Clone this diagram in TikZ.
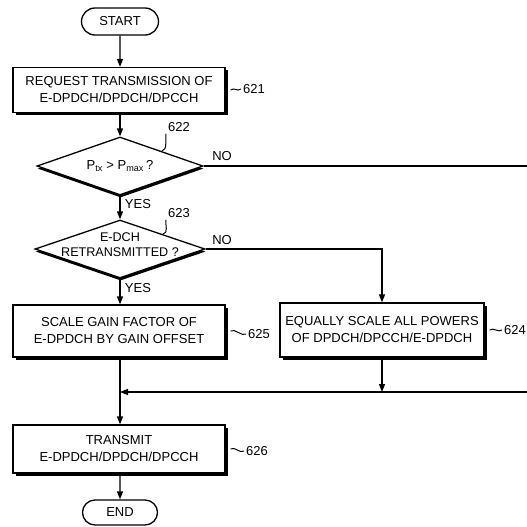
\documentclass[tikz,border=0pt]{standalone}
\usepackage{fontspec}
\setmainfont{Liberation Sans}
\usetikzlibrary{arrows.meta,shapes.geometric,shapes.misc,shadows}
\begin{document}
\begin{tikzpicture}[x=1pt,y=-1pt, line width=1.3pt,
  font=\fontsize{13}{17}\selectfont,
  box/.style={draw, fill=white, rectangle, align=center, inner sep=0pt,
    drop shadow={shadow xshift=2.6pt, shadow yshift=-2.6pt, fill=black, opacity=1}},
  term/.style={draw, rounded rectangle, fill=white, inner sep=0pt},
  dec/.style={draw, diamond, fill=white, inner sep=0pt,
    drop shadow={shadow xshift=0.6pt, shadow yshift=-2.6pt, fill=black, opacity=1}},
  arr/.style={-{Triangle[length=8pt,width=6pt]}},
  lab/.style={inner sep=1.5pt},
  tld/.style={line width=1pt}
]
\useasboundingbox (0,0) rectangle (527,527);

\node[term, minimum width=77, minimum height=27] (start) at (120,21.5) {START};
\node[box, minimum width=212, minimum height=45] (n621) at (119,90) {REQUEST TRANSMISSION OF\\E-DPDCH/DPDCH/DPCCH};
\node[dec, minimum width=166, minimum height=58] (d622) at (120,166) {};
\node (t622) at (d622.center) {P\textsubscript{tx} > P\textsubscript{max}\,?};
\node[dec, minimum width=170, minimum height=58] (d623) at (120,249) {};
\node[align=center, font=\fontsize{12.6}{15}\selectfont] (t623) at (120,245) {E-DCH\\RETRANSMITTED ?};
\node[box, minimum width=212, minimum height=52] (n625) at (119,331) {SCALE GAIN FACTOR OF\\E-DPDCH BY GAIN OFFSET};
\node[box, minimum width=204, minimum height=54] (n624) at (382,330) {EQUALLY SCALE ALL POWERS\\OF DPDCH/DPCCH/E-DPDCH};
\node[box, minimum width=212, minimum height=48] (n626) at (119,449) {TRANSMIT\\E-DPDCH/DPDCH/DPCCH};
\node[term, minimum width=75, minimum height=25] (end) at (120,512.5) {END};

% connectors
\coordinate (e1) at (527,166);
\coordinate (e2) at (527,392);
\coordinate (m) at (120,392);
\draw[arr] (start) -- (start |- n621.north);
\draw[arr] (n621.south -| start) -- (d622.north);
\draw[arr] (d622.south) -- (d623.north);
\draw[arr] (d623.south) -- (d623.south |- n625.north);
\draw (d622.east) -- (e1);
\draw[arr] (d623.east) -| (n624.north);
\draw[arr] (n625.south -| m) -- (m |- n626.north);
\draw[arr] (e2) -- (m);
\draw[arr] (n624.south) -- (n624.south |- e2);
\draw[arr] (n626.south -| end) -- (end);

% YES / NO
\node[lab] (no1) at (222,156) {NO};
\node[lab] (no2) at (222,240) {NO};
\node[lab] (yes1) at (138,204) {YES};
\node[lab] (yes2) at (138,288) {YES};

% reference numerals
\node[lab] (l621) at (254,89) {621};
\node[lab] (l622) at (179,127) {622};
\node[lab] (l623) at (179,213) {623};
\node[lab] (l624) at (515,330) {624};
\node[lab] (l625) at (259,334) {625};
\node[lab] (l626) at (257,451) {626};

\draw[tld] (n621.east) ++(5,0) .. controls +(4,-3) and +(-4,3) .. (l621.west);
\draw[tld] (n625.east) ++(5,0) .. controls +(4,-3) and +(-4,3) .. (l625.west);
\draw[tld] (n624.east) ++(5,0) .. controls +(4,-3) and +(-4,3) .. (l624.west);
\draw[tld] (n626.east) ++(5,0) .. controls +(4,-3) and +(-4,3) .. (l626.west);
\draw[tld] (d622.north east) .. controls +(6,-1) and +(-1,5) .. (l622.south west);
\draw[tld] (d623.north east) .. controls +(6,-1) and +(-1,5) .. (l623.south west);
\end{tikzpicture}
\end{document}
